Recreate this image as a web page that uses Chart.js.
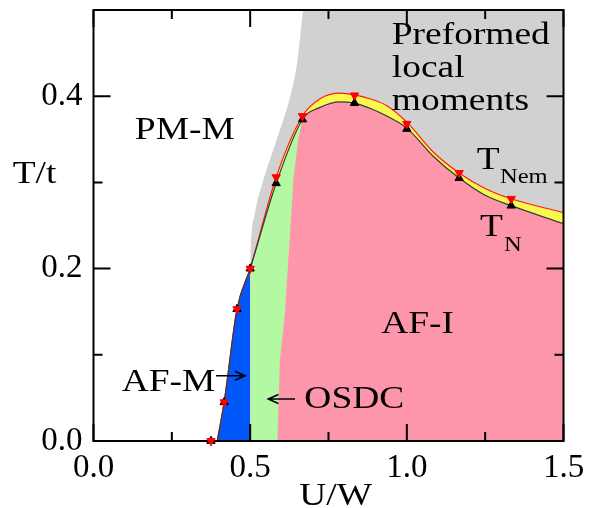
<!DOCTYPE html>
<html>
<head>
<meta charset="utf-8">
<script src="https://cdn.jsdelivr.net/npm/chart.js@4.4.0/dist/chart.umd.min.js"></script>
<style>
html, body { margin: 0; padding: 0; background: #fff; }
.c-chart { width: 603px; height: 508px; position: relative; }
</style>
</head>
<body>
<div class="c-chart"><canvas id="phaseDiagram"></canvas></div>
<script>
'use strict';

// markers: T_Nem (red, down) and T_N (black, up)
const markU = [0.375, 0.417, 0.458, 0.5, 0.583, 0.667, 0.833, 1.0, 1.167, 1.333];
const markNem = [0, 0.045, 0.153, 0.2, 0.306, 0.377, 0.401, 0.368, 0.311, 0.281];
const markN = [0, 0.045, 0.153, 0.2, 0.299, 0.373, 0.392, 0.362, 0.305, 0.273];

// transition lines
const lineU = [0.395, 0.417, 0.458, 0.5, 0.583, 0.667, 0.723, 0.785, 0.833, 0.882, 0.936, 1.0, 1.085, 1.167, 1.25, 1.333, 1.5];
const lineNem = [0, 0.045, 0.153, 0.2, 0.306, 0.377, 0.397, 0.4035, 0.4015, 0.397, 0.389, 0.37, 0.335, 0.311, 0.293, 0.281, 0.265];
const lineN = [0, 0.045, 0.153, 0.2, 0.299, 0.373, 0.387, 0.3935, 0.392, 0.386, 0.377, 0.363, 0.33, 0.305, 0.285, 0.273, 0.252];

// left edge of the grey "preformed local moments" region
const grayU = [0.5, 0.502, 0.515, 0.54, 0.585, 0.628, 0.648, 0.661, 0.67, 1.5];
const grayT = [0.2, 0.225, 0.264, 0.3, 0.35, 0.4, 0.434, 0.473, 0.5, 0.5];

// lower edge of the OSDC (green) region: along T=0, then the AF-I boundary
const osdcU = [0.5, 0.587, 0.595, 0.611, 0.638, 0.653, 0.667];
const osdcT = [0, 0, 0.094, 0.148, 0.303, 0.349, 0.373];

// AF-M | rest split along the T_N line
const afmEdge = 0.5;

const xMajor = [0, 0.5, 1.0, 1.5];
const xMinor = [0.25, 0.75, 1.25];
const yMajor = [0, 0.2, 0.4];
const yMinor = [0.1, 0.3];

const notes = [
    {text: 'Preformed', u: 0.952, t: 0.461},
    {text: 'local', u: 0.952, t: 0.4224},
    {text: 'moments', u: 0.952, t: 0.3838},
    {text: 'PM-M', u: 0.132, t: 0.35},
    {text: 'AF-I', u: 0.918, t: 0.125},
    {text: 'AF-M', u: 0.09, t: 0.058},
    {text: 'OSDC', u: 0.673, t: 0.038},
    {text: 'T', u: 1.223, t: 0.315},
    {text: 'Nem', u: 1.297, t: 0.2988, small: true},
    {text: 'T', u: 1.2335, t: 0.238},
    {text: 'N', u: 1.31, t: 0.2206, small: true},
    {text: 'U/W', u: 0.773, t: -0.0742, align: 'center'},
    {text: 'T/t', u: -0.258, t: 0.2988}
];
const arrows = [
    {from: [0.391, 0.0757], to: [0.4835, 0.0757]},
    {from: [0.643, 0.0487], to: [0.558, 0.0487]}
];

const colors = {
    gray: '#d1d1d1', yellow: '#f8f84e', pink: '#fd96aa', green: '#b3f8a2', blue: '#0057fa',
    red: '#ff1a1a', dark: '#3a3a3a'
};
const fontFamily = '"Liberation Serif", "Times New Roman", serif';
const stretch = 1.17;

const pairs = function (us, ts) {
    return us.map((u, i) => ({x: u, y: ts[i]}));
};

const drawText = function (chart, n) {
    const ctx = chart.ctx;
    const x = chart.scales.x.getPixelForValue(n.u);
    const y = chart.scales.y.getPixelForValue(n.t);
    ctx.save();
    ctx.translate(x, y);
    ctx.scale(stretch, 1);
    ctx.font = `${n.small ? 21 : 32}px ${fontFamily}`;
    ctx.textAlign = n.align || 'left';
    ctx.textBaseline = 'alphabetic';
    ctx.fillStyle = '#000';
    ctx.fillText(n.text, 0, 0);
    ctx.restore();
};

const drawArrow = function (chart, a) {
    const ctx = chart.ctx;
    const xs = chart.scales.x, ys = chart.scales.y;
    const x0 = xs.getPixelForValue(a.from[0]), y0 = ys.getPixelForValue(a.from[1]);
    const x1 = xs.getPixelForValue(a.to[0]), y1 = ys.getPixelForValue(a.to[1]);
    const ang = Math.atan2(y1 - y0, x1 - x0);
    ctx.save();
    ctx.strokeStyle = '#000';
    ctx.lineWidth = 1.6;
    ctx.beginPath();
    ctx.moveTo(x0, y0);
    ctx.lineTo(x1, y1);
    ctx.moveTo(x1 - 11 * Math.cos(ang - 0.42), y1 - 11 * Math.sin(ang - 0.42));
    ctx.lineTo(x1, y1);
    ctx.lineTo(x1 - 11 * Math.cos(ang + 0.42), y1 - 11 * Math.sin(ang + 0.42));
    ctx.stroke();
    ctx.restore();
};

const drawFrame = function (chart) {
    const ctx = chart.ctx;
    const {left, right, top, bottom} = chart.chartArea;
    const xs = chart.scales.x, ys = chart.scales.y;
    ctx.save();
    ctx.strokeStyle = '#000';
    ctx.lineWidth = 2;
    ctx.strokeRect(left, top, right - left, bottom - top);
    ctx.beginPath();
    const xt = function (vals, len) {
        vals.forEach(v => {
            const p = xs.getPixelForValue(v);
            ctx.moveTo(p, bottom); ctx.lineTo(p, bottom - len);
            ctx.moveTo(p, top); ctx.lineTo(p, top + len);
        });
    };
    const yt = function (vals, len) {
        vals.forEach(v => {
            const p = ys.getPixelForValue(v);
            ctx.moveTo(left, p); ctx.lineTo(left + len, p);
            ctx.moveTo(right, p); ctx.lineTo(right - len, p);
        });
    };
    xt(xMajor, 17); xt(xMinor, 9);
    yt(yMajor, 17); yt(yMinor, 9);
    ctx.stroke();
    ctx.restore();
};

const framePlugin = {
    id: 'frame',
    beforeDatasetDraw(chart, args) {
        if (args.index === 6) drawFrame(chart);
    },
    afterDraw(chart) {
        notes.forEach(n => drawText(chart, n));
        arrows.forEach(a => drawArrow(chart, a));
    }
};

const fillSet = function (data, color, order, extra) {
    return Object.assign({
        data: data, showLine: true, fill: 'origin', backgroundColor: color,
        borderColor: 'transparent', borderWidth: 0, pointRadius: 0,
        cubicInterpolationMode: 'monotone', order: order
    }, extra || {});
};

const loadGraph = function () {
    const ctx = document.getElementById('phaseDiagram').getContext('2d');
    new Chart(ctx, {
        type: 'scatter',
        data: {
            datasets: [
                fillSet(pairs(grayU, grayT), colors.gray, 10),
                fillSet(pairs(lineU, lineNem), colors.yellow, 9),
                fillSet(pairs(lineU, lineN), colors.pink, 8, {
                    segment: {
                        backgroundColor: c => c.p0.parsed.x < afmEdge - 1e-6 ? colors.blue : colors.pink
                    }
                }),
                // OSDC: between its lower edge and the T_N line (dataset 2)
                fillSet(pairs(osdcU, osdcT), colors.green, 7, {
                    fill: 2, cubicInterpolationMode: 'default', tension: 0
                }),
                {
                    data: pairs(lineU, lineNem), showLine: true, fill: false, borderColor: colors.red,
                    borderWidth: 1.2, pointRadius: 0, cubicInterpolationMode: 'monotone', order: 6
                },
                {
                    data: pairs(lineU, lineN), showLine: true, fill: false, borderColor: colors.dark,
                    borderWidth: 1.2, pointRadius: 0, cubicInterpolationMode: 'monotone', order: 5
                },
                {
                    data: pairs(markU, markN), pointStyle: 'triangle', pointRadius: 4.8,
                    backgroundColor: '#000', borderColor: '#000', borderWidth: 1, clip: false, order: 4
                },
                {
                    data: pairs(markU, markNem), pointStyle: 'triangle', rotation: 180, pointRadius: 4.8,
                    backgroundColor: '#ff0000', borderColor: '#ff0000', borderWidth: 1, clip: false, order: 3
                }
            ]
        },
        options: {
            responsive: true,
            maintainAspectRatio: false,
            animation: false,
            events: [],
            layout: {padding: {left: 0, right: 39.5, top: 10, bottom: 0}},
            plugins: {legend: {display: false}, tooltip: {enabled: false}},
            scales: {
                x: {
                    type: 'linear', min: 0, max: 1.5,
                    grid: {display: false, drawTicks: false},
                    border: {display: false},
                    afterFit: s => { s.height = 67; s.paddingLeft = 0; s.paddingRight = 0; },
                    afterBuildTicks: s => { s.ticks = xMajor.map(v => ({value: v})); },
                    ticks: {
                        padding: 8, color: '#000',
                        font: {family: fontFamily, size: 33},
                        callback: v => v.toFixed(1)
                    }
                },
                y: {
                    type: 'linear', min: 0, max: 0.5,
                    grid: {display: false, drawTicks: false},
                    border: {display: false},
                    afterFit: s => { s.width = 93.5; s.paddingTop = 0; s.paddingBottom = 0; },
                    afterBuildTicks: s => { s.ticks = yMajor.map(v => ({value: v})); },
                    ticks: {
                        padding: 11, color: '#000',
                        font: {family: fontFamily, size: 33},
                        callback: v => v.toFixed(1)
                    }
                }
            }
        },
        plugins: [framePlugin]
    });
};

document.addEventListener('DOMContentLoaded', function () {
    loadGraph();
});
</script>
</body>
</html>
